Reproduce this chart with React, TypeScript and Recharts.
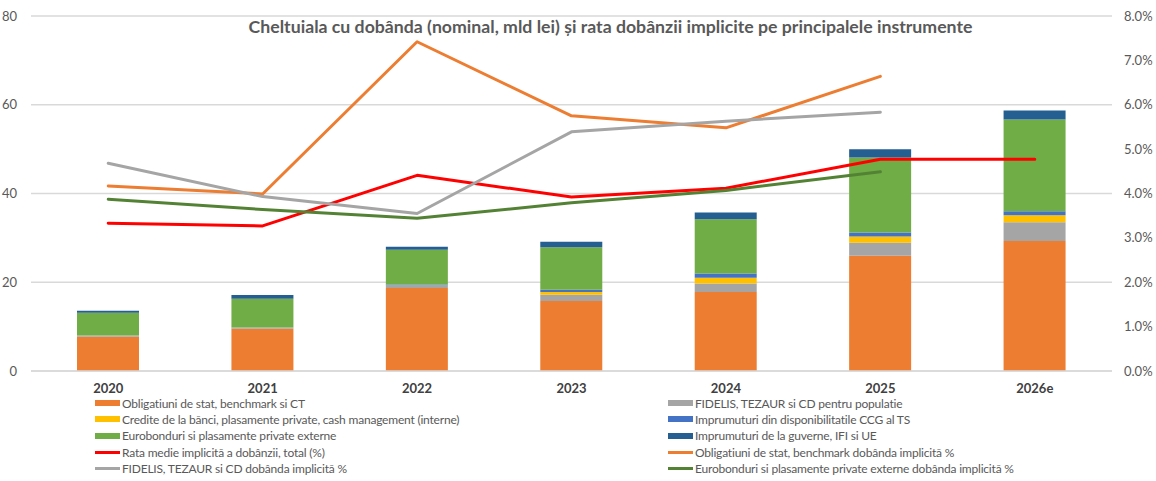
import { ComposedChart, Bar, Line, XAxis, YAxis, CartesianGrid, Legend } from "recharts";

document.body.style.margin = "0";

const years = ["2020", "2021", "2022", "2023", "2024", "2025", "2026e"];

// mld lei, stacked bars
const obligatiuni = [7.7, 9.5, 18.7, 15.8, 17.8, 26.0, 29.3];
const fidelis = [0.3, 0.3, 0.6, 1.4, 1.9, 2.9, 4.2];
const credite = [0, 0, 0, 0.6, 1.3, 1.4, 1.6];
const ccg = [0, 0, 0.2, 0.5, 1.0, 0.9, 0.9];
const eurobonduri = [5.1, 6.5, 7.8, 9.6, 12.2, 16.9, 20.7];
const guverne = [0.5, 0.8, 0.7, 1.2, 1.5, 1.9, 2.0];

// rate implicite, %
const rataMedie = [3.33, 3.27, 4.41, 3.92, 4.12, 4.77, 4.77];
const obligRate = [4.17, 3.99, 7.42, 5.75, 5.48, 6.64, null];
const fidelisRate = [4.68, 3.93, 3.55, 5.39, 5.63, 5.83, null];
const euroRate = [3.87, 3.64, 3.44, 3.79, 4.07, 4.49, null];

const leftTicks = [0, 20, 40, 60, 80];
const rightTicks = [0, 1, 2, 3, 4, 5, 6, 7, 8];

const title =
  "Cheltuiala cu dobânda (nominal, mld lei) și rata dobânzii implicite pe principalele instrumente";

const data = years.map((year, i) => ({
  year,
  oblig: obligatiuni[i],
  fidelis: fidelis[i],
  credite: credite[i],
  ccg: ccg[i],
  euro: eurobonduri[i],
  guverne: guverne[i],
  rata: rataMedie[i],
  obligRate: obligRate[i],
  fidelisRate: fidelisRate[i],
  euroRate: euroRate[i],
}));

const barSeries = [
  { key: "oblig", name: "Obligatiuni de stat, benchmark si CT", color: "#ED7D31" },
  { key: "fidelis", name: "FIDELIS, TEZAUR si CD pentru populatie", color: "#A5A5A5" },
  { key: "credite", name: "Credite de la bănci, plasamente private, cash management (interne)", color: "#FFC000" },
  { key: "ccg", name: "Imprumuturi din disponibilitatile CCG al TS", color: "#4472C4" },
  { key: "euro", name: "Eurobonduri si plasamente private externe", color: "#70AD47" },
  { key: "guverne", name: "Imprumuturi de la guverne, IFI si UE", color: "#255E91" },
];

const lineSeries = [
  { key: "rata", name: "Rata medie implicită a dobânzii, total (%)", color: "#FF0000" },
  { key: "obligRate", name: "Obligatiuni de stat, benchmark dobânda implicită %", color: "#ED7D31" },
  { key: "fidelisRate", name: "FIDELIS, TEZAUR si CD dobânda implicită %", color: "#A5A5A5" },
  { key: "euroRate", name: "Eurobonduri si plasamente private externe dobânda implicită %", color: "#548235" },
];

const legendItems = [
  ...barSeries.map((s) => ({ ...s, kind: "bar" })),
  ...lineSeries.map((s) => ({ ...s, kind: "line" })),
];

const textColor = "#595959";

const ChartLegend = () => (
  <div style={{ position: "relative", height: 90, width: 1156 }}>
    {legendItems.map((item, i) => {
      const col = i % 2;
      const row = Math.floor(i / 2);
      const left = col === 0 ? 95 : 668;
      const top = 12 + row * 16.4;
      return (
        <div
          key={item.key}
          style={{
            position: "absolute",
            left,
            top: top - 6.5,
            height: 13,
            lineHeight: "13px",
            display: "flex",
            alignItems: "center",
            whiteSpace: "nowrap",
            fontSize: 12,
            letterSpacing: -0.2,
            color: textColor,
          }}
        >
          <span
            style={{
              display: "inline-block",
              width: 25,
              height: item.kind === "bar" ? 6 : 3,
              background: item.color,
              marginRight: 2,
            }}
          />
          {item.name}
        </div>
      );
    })}
  </div>
);

export default function App() {
  return (
    <div style={{ position: "relative", width: 1156, height: 481, fontFamily: "Lato, sans-serif", background: "#fff" }}>
      <ComposedChart
        width={1156}
        height={481}
        data={data}
        margin={{ top: 16, right: 0, bottom: 0, left: 0 }}
        barSize={62}
      >
        <CartesianGrid yAxisId="left" vertical={false} stroke="#D9D9D9" strokeWidth={1.3} />
        <XAxis
          dataKey="year"
          height={20}
          axisLine={{ stroke: "#D9D9D9", strokeWidth: 1.3 }}
          tickLine={false}
          tickSize={0}
          tickMargin={13}
          tick={{ fontSize: 13, fontWeight: 700, fill: "#404040" }}
        />
        <YAxis
          yAxisId="left"
          width={31}
          domain={[0, 80]}
          ticks={leftTicks}
          axisLine={false}
          tickLine={false}
          tickSize={0}
          tickMargin={14}
          tick={{ fontSize: 13, fill: textColor }}
        />
        <YAxis
          yAxisId="right"
          orientation="right"
          width={44}
          domain={[0, 8]}
          ticks={rightTicks}
          axisLine={false}
          tickLine={false}
          tickSize={0}
          tickMargin={12}
          tickFormatter={(v) => `${Number(v).toFixed(1)}%`}
          tick={{ fontSize: 13, fill: textColor }}
        />
        <Legend verticalAlign="bottom" content={<ChartLegend />} />
        {barSeries.map((s) => (
          <Bar
            key={s.key}
            yAxisId="left"
            dataKey={s.key}
            name={s.name}
            stackId="total"
            fill={s.color}
            isAnimationActive={false}
          />
        ))}
        {lineSeries.map((s) => (
          <Line
            key={s.key}
            yAxisId="right"
            type="linear"
            dataKey={s.key}
            name={s.name}
            stroke={s.color}
            strokeWidth={3}
            strokeLinejoin="round"
            strokeLinecap="round"
            dot={false}
            activeDot={false}
            isAnimationActive={false}
          />
        ))}
      </ComposedChart>
      <div
        style={{
          position: "absolute",
          left: 610.5,
          top: 16,
          transform: "translateX(-50%)",
          whiteSpace: "nowrap",
          fontSize: 17.7,
          fontWeight: 700,
          color: textColor,
        }}
      >
        {title}
      </div>
    </div>
  );
}
